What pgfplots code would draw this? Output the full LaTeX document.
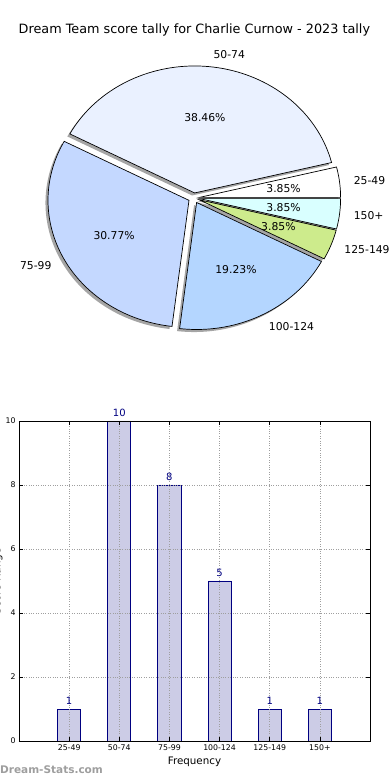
\documentclass[border=0pt]{standalone}
\usepackage{fontspec}
\setmainfont{DejaVu Sans}
\usepackage{pgfplots}
\pgfplotsset{compat=1.18}
\definecolor{cA}{HTML}{FFFFFF}   % 25-49
\definecolor{cB}{HTML}{EAF1FF}   % 50-74
\definecolor{cC}{HTML}{C4D8FF}   % 75-99
\definecolor{cD}{HTML}{B4D6FF}   % 100-124
\definecolor{cE}{HTML}{CDEB8C}   % 125-149
\definecolor{cF}{HTML}{D9FFFF}   % 150+
\definecolor{barfill}{HTML}{CCCCE6}
\definecolor{navy}{HTML}{000080}
\newcommand\pielbl{\fontsize{10.8}{13}\selectfont}
% slice: start angle, end angle, centre x, centre y, style
\newcommand\pieslice[5]{%
  \addplot[#5, domain=#1:#2, samples=72] ({#3+cos(x)},{#4+sin(x)}) -- (axis cs:#3,#4) -- cycle;}
\begin{document}
\begin{tikzpicture}[x=1pt,y=1pt]
\useasboundingbox (0,0) rectangle (390,780);
\node[font=\fontsize{12.8}{15}\selectfont] at (194.4,750) {Dream Team score tally for Charlie Curnow - 2023 tally};
% counts: 25-49:1, 50-74:10, 75-99:8, 100-124:5, 125-149:1, 150+:1 (total 26)
\begin{axis}[at={(194pt,582pt)}, anchor=origin, hide axis, scale only axis,
  width=338.4pt, height=304.8pt, xmin=-1.2, xmax=1.2, ymin=-1.2, ymax=1.2,
  clip=false, enlargelimits=false]
% shadows
\pieslice{0}{13.846}{0.02171}{-0.01518}{draw=none, fill=black!70, fill opacity=0.5}
\pieslice{13.846}{152.308}{-0.01318}{0.01971}{draw=none, fill=black!70, fill opacity=0.5}
\pieslice{152.308}{263.077}{-0.05342}{-0.03859}{draw=none, fill=black!70, fill opacity=0.5}
\pieslice{263.077}{332.308}{0.00059}{-0.05542}{draw=none, fill=black!70, fill opacity=0.5}
\pieslice{332.308}{346.154}{0.01940}{-0.03418}{draw=none, fill=black!70, fill opacity=0.5}
\pieslice{346.154}{360}{0.02171}{-0.02482}{draw=none, fill=black!70, fill opacity=0.5}
% slices
\pieslice{0}{13.846}{0.03971}{0.00482}{draw=black, line width=0.7pt, fill=cA}
\pieslice{13.846}{152.308}{0.00482}{0.03971}{draw=black, line width=0.7pt, fill=cB}
\pieslice{152.308}{263.077}{-0.03542}{-0.01859}{draw=black, line width=0.7pt, fill=cC}
\pieslice{263.077}{332.308}{0.01859}{-0.03542}{draw=black, line width=0.7pt, fill=cD}
\pieslice{332.308}{346.154}{0.03740}{-0.01418}{draw=black, line width=0.7pt, fill=cE}
\pieslice{346.154}{360}{0.03971}{-0.00482}{draw=black, line width=0.7pt, fill=cF}
% percentages
\node[font=\pielbl, inner sep=0] at (axis cs:0.63533,0.07715) {3.85\%};
\node[font=\pielbl, inner sep=0] at (axis cs:0.07715,0.63533) {38.46\%};
\node[font=\pielbl, inner sep=0] at (axis cs:-0.56669,-0.29742) {30.77\%};
\node[font=\pielbl, inner sep=0] at (axis cs:0.29742,-0.56669) {19.23\%};
\node[font=\pielbl, inner sep=0] at (axis cs:0.59841,-0.22694) {3.85\%};
\node[font=\pielbl, inner sep=0] at (axis cs:0.63533,-0.07715) {3.85\%};
% labels
\node[font=\pielbl, inner sep=0, anchor=west] at (axis cs:1.13169,0.13742) {25-49};
\node[font=\pielbl, inner sep=0, anchor=west] at (axis cs:0.13742,1.13169) {50-74};
\node[font=\pielbl, inner sep=0, anchor=east] at (axis cs:-1.00942,-0.52978) {75-99};
\node[font=\pielbl, inner sep=0, anchor=west] at (axis cs:0.52978,-1.00942) {100-124};
\node[font=\pielbl, inner sep=0, anchor=west] at (axis cs:1.06592,-0.40424) {125-149};
\node[font=\pielbl, inner sep=0, anchor=west] at (axis cs:1.13169,-0.13742) {150+};
\end{axis}

\begin{axis}[at={(19pt,39pt)}, anchor=south west, scale only axis,
  width=351pt, height=320pt, xmin=-1, xmax=6, ymin=0, ymax=10,
  enlargelimits=false, ybar, bar width=0.46,
  xtick={0,...,5}, xticklabels={25-49,50-74,75-99,100-124,125-149,150+},
  ytick={0,2,...,10},
  grid=major, major grid style={dotted, gray!75, line width=0.6pt},
  tick align=inside, major tick length=4pt,
  tick style={black, line width=0.5pt},
  axis line style={black, line width=0.8pt},
  ticklabel style={font=\fontsize{7.8}{9}\selectfont},
  /pgf/number format/assume math mode=true,
  xlabel={Frequency}, xlabel style={font=\fontsize{10.3}{12}\selectfont, yshift=0pt},
  nodes near coords={\fontsize{10}{12}\selectfont\pgfmathprintnumber{\pgfplotspointmeta}},
  every node near coord/.append style={text=navy, yshift=1pt},
  axis on top]
\addplot[fill=barfill, draw=navy, line width=0.8pt] coordinates {(0,1) (1,10) (2,8) (3,5) (4,1) (5,1)};
\end{axis}
\node[rotate=90, font=\fontsize{10.5}{12}\selectfont] at (-2.5,199) {Score Range};
\node[anchor=west, inner sep=0, text=black!38, font=\bfseries\fontsize{10.5}{12}\selectfont] at (0,10) {Dream-Stats.com};
\end{tikzpicture}
\end{document}
